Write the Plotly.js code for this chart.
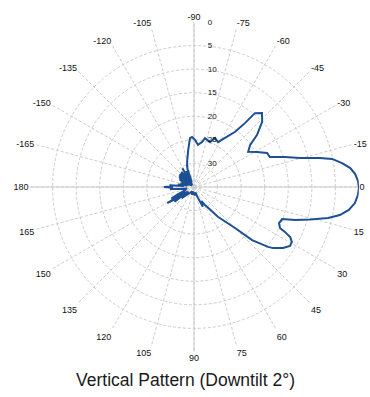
<!DOCTYPE html>
<html>
<head>
<meta charset="utf-8">
<script src="https://cdn.plot.ly/plotly-3.0.1.min.js"></script>
<style>
  html, body { margin: 0; padding: 0; background: #ffffff; }
  #chart { width: 370px; height: 397px; }
</style>
</head>
<body>
<div id="chart"></div>
<script>
// Elevation angle in degrees (0 = horizon, positive = below horizon)
const angles = [
  -180, -178, -176, -174, -171, -168, -165, -162, -159, -156, -154, -152, -150, -148,
  -146, -144, -142, -140, -138, -136, -134, -132, -130, -128, -126, -124, -122, -120,
  -118, -116, -114, -112, -110, -108, -104, -99,
  -94.7, -92.3, -88.8, -84.6, -79.9, -77.3, -70.4, -66.8, -61.9, -57.7, -53.3, -51.4, -50.5, -47.4,
  -43.7, -39.5, -36.9, -33, -29, -25, -21.5, -18.2, -15.3, -13, -11.5, -9.2, -6.9, -4.6,
  -2.1, 0.3, 2.8, 5.7, 8.4, 10.9, 13, 15.6, 18.1, 20, 23, 25.5, 26.3, 27.5,
  29.3, 31.6, 34.4, 37.7, 39, 42.4, 45, 51.3, 58.6, 62, 66, 70, 76, 85,
  95, 105, 115, 125, 133, 138, 141, 143, 145, 147, 149, 151, 153, 156, 160, 164, 168,
  172, 175, 178, 180
];

// Relative attenuation in dB (0 = peak of the main beam)
const attenuation = [
  28.6, 30.5, 29.8, 32.8, 31.5, 33.5, 32.0, 33.6, 32.2, 33.8, 31.6, 34.2, 31.4, 34.3,
  31.2, 34.4, 31.0, 34.5, 30.9, 34.4, 31.0, 34.5, 30.8, 34.3, 31.2, 34.2, 30.3, 34.0,
  31.2, 33.8, 31.3, 33.4, 30.9, 30.2, 29.1, 27.1,
  24.6, 24.4, 25.0, 26.0, 25.3, 24.4, 24.9, 23.7, 24.2, 22.7, 20.4, 17.6, 14.7, 13.7,
  15.0, 17.7, 20.1, 21.3, 19.7, 17.9, 17.7, 14.7, 11.7, 7.6, 5.1, 3.2, 1.6, 0.7,
  0.2, 0.0, 0.2, 0.7, 1.8, 3.5, 5.8, 9.4, 12.4, 15.1, 15.4, 14.8, 13.5, 12.0,
  11.2, 11.1, 12.1, 13.8, 14.8, 18.3, 22.7, 26.9, 30.5, 31.6, 30.4, 32.6, 33.8, 33.2,
  33.8, 33.3, 34.0, 33.4, 32.6, 31.5, 33.5, 29.8, 33.2, 30.6, 28.4, 32.8, 29.6, 31.2, 33.2, 32.6, 33.5,
  31.8, 29.9, 30.5, 28.6
];

// Attenuation rings from the rim (0 dB) toward the centre (35 dB)
const dbRings = [0, 5, 10, 15, 20, 25, 30];
const dbFloor = 35;

// Angular labels every 15 degrees, clockwise from the horizon
const angleTicks = [0, 15, 30, 45, 60, 75, 90, 105, 120, 135, 150, 165,
                    180, 195, 210, 225, 240, 255, 270, 285, 300, 315, 330, 345];
const angleTickText = ["0", "15", "30", "45", "60", "75", "90", "105", "120", "135", "150", "165",
                       "180", "-165", "-150", "-135", "-120", "-105", "-90", "-75", "-60", "-45", "-30", "-15"];

// Ring labels sit just right of the vertical axis (non-breaking spaces push them over)
const pad = "\u00A0\u00A0\u00A0\u00A0\u00A0\u00A0";
const radius = attenuation.map(d => dbFloor - d);
const ringVals = dbRings.map(d => dbFloor - d);
const ringText = dbRings.map(d => pad + String(d));

const gridColor = "#cccccc";

const traces = [
  {
    type: "scatterpolar", mode: "lines",
    r: [dbFloor, 0, dbFloor], theta: [0, 0, 180],
    line: { color: gridColor, width: 1 }, hoverinfo: "skip", showlegend: false
  },
  {
    type: "scatterpolar", mode: "lines",
    r: [dbFloor, 0, dbFloor], theta: [270, 270, 90],
    line: { color: gridColor, width: 1 }, hoverinfo: "skip", showlegend: false
  },
  {
    type: "scatterpolar", mode: "lines",
    r: radius, theta: angles,
    line: { color: "#1d4f94", width: 2 },
    showlegend: false
  }
];

const layout = {
  width: 370, height: 397,
  margin: { l: 0, r: 0, t: 0, b: 0 },
  paper_bgcolor: "#ffffff",
  showlegend: false,
  font: { family: "Liberation Sans, Arial, sans-serif", color: "#111111" },
  polar: {
    domain: { x: [0.0784, 0.9703], y: [0.1134, 0.9446] },
    bgcolor: "#ffffff",
    angularaxis: {
      direction: "clockwise",
      rotation: 0,
      tickmode: "array",
      tickvals: angleTicks,
      ticktext: angleTickText,
      ticks: "",
      showline: false,
      gridcolor: gridColor,
      griddash: "3px,2px",
      tickfont: { size: 9, color: "#111111" }
    },
    radialaxis: {
      range: [0, dbFloor],
      angle: 90,
      tickangle: 90,
      tickmode: "array",
      tickvals: ringVals,
      ticktext: ringText,
      ticks: "",
      showline: false,
      gridcolor: gridColor,
      griddash: "3px,2px",
      tickfont: { size: 8, color: "#111111" }
    }
  },
  annotations: [
    {
      text: "Vertical Pattern (Downtilt 2°)",
      xref: "paper", yref: "paper", x: 0.5, y: 0.043,
      xanchor: "center", yanchor: "middle", showarrow: false,
      font: { size: 17.5, color: "#1a1a1a", family: "Liberation Sans, Arial, sans-serif" }
    }
  ]
};

Plotly.newPlot("chart", traces, layout, { displayModeBar: false, staticPlot: true });
</script>
</body>
</html>
